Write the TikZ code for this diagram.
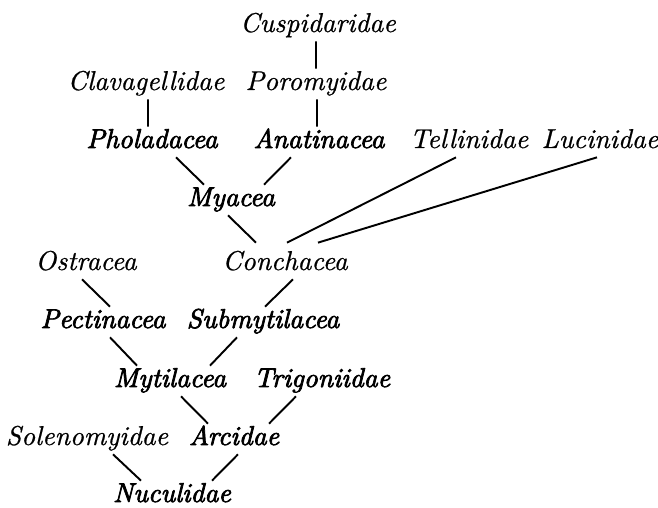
\documentclass[tikz,border=0pt]{standalone}
\usepackage{fontspec}
\usepackage{tikz}
\usetikzlibrary{positioning}
\newfontface\plainit{lmroman10-italic.otf}[FakeBold=0.7]
\newfontface\heavyit{lmroman10-italic.otf}[FakeBold=2.6]

\tikzset{
  taxon/.style={anchor=base,inner sep=0.06cm,text height=0.36cm,text depth=0.12cm,
    font=\fontsize{15.5}{18}\selectfont\plainit},
  major/.style={taxon,font=\fontsize{15.5}{18}\selectfont\heavyit},
  branch/.style={line width=1.1pt}
}

\begin{document}
\begin{tikzpicture}
\useasboundingbox (0,0) rectangle (13.16,10.16);
\node[taxon] (cusp) at (6.36,9.52) {Cuspidaridae};
\node[taxon] (clav) at (2.92,8.36) {Clavagellidae};
\node[taxon] (poro) at (6.32,8.36) {Poromyidae};
\node[major] (phol) at (3.04,7.20) {Pholadacea};
\node[major] (anat) at (6.38,7.20) {Anatinacea};
\node[taxon] (tell) at (9.38,7.20) {Tellinidae};
\node[taxon] (luci) at (12.00,7.20) {Lucinidae};
\node[major] (myac) at (4.62,6.04) {Myacea};
\node[taxon] (ostr) at (1.72,4.76) {Ostracea};
\node[taxon,text height=0.48cm] (conc) at (5.70,4.76) {Conchacea};
\node[major] (pect) at (2.06,3.60) {Pectinacea};
\node[major] (subm) at (5.26,3.60) {Submytilacea};
\node[major] (myti) at (3.40,2.42) {Mytilacea};
\node[major] (trig) at (6.44,2.42) {Trigoniidae};
\node[taxon] (sole) at (1.74,1.26) {Solenomyidae};
\node[major] (arci) at (4.68,1.26) {Arcidae};
\node[major] (nucu) at (3.44,0.12) {Nuculidae};
% upper end / lower end, shifted along the text
\foreach \up/\su/\lo/\sl in {cusp/-0.04/poro/0, clav/0.04/phol/-0.08, poro/0.02/anat/-0.04,
    phol/0.48/myac/-0.54, anat/-0.56/myac/0.66, myac/-0.06/conc/-0.58,
    tell/-0.26/conc/0.04, luci/-0.06/conc/0.66, ostr/-0.08/pect/0.14,
    conc/0.16/subm/0.04, pect/0.14/myti/-0.66, subm/-0.52/myti/0.80,
    myti/0.22/arci/-0.52, trig/-0.52/arci/0.70, sole/0.52/nucu/-0.62,
    arci/0.08/nucu/0.80}
  \draw[branch] ([xshift=\su cm]\up.south) -- ([xshift=\sl cm]\lo.north);
\end{tikzpicture}
\end{document}
